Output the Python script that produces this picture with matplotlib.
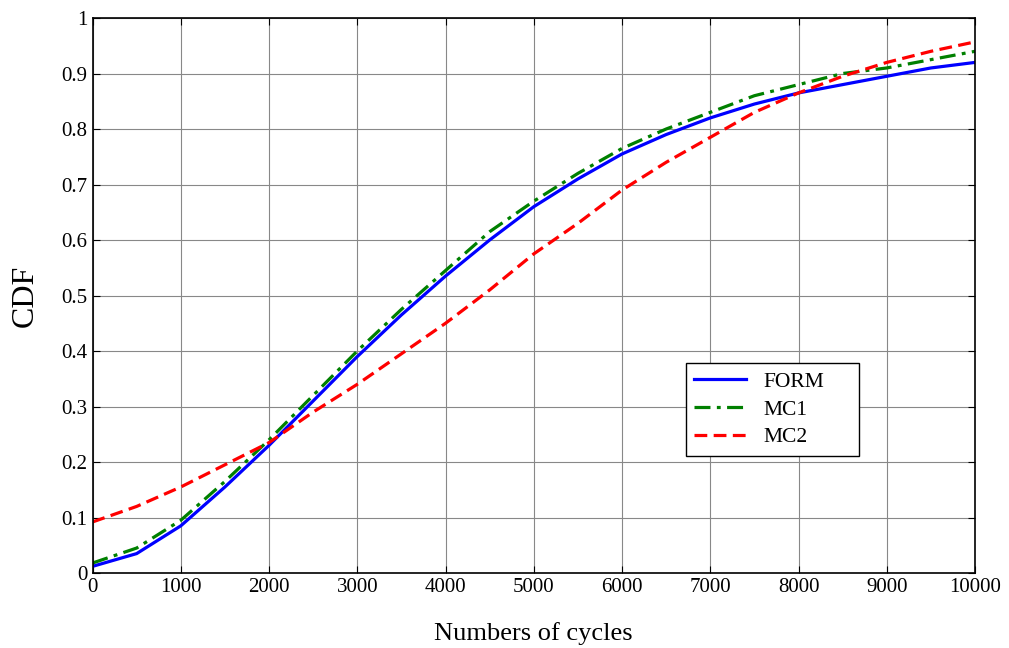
import numpy as np
import matplotlib.pyplot as plt

plt.rcParams['font.family'] = ['Liberation Serif', 'DejaVu Serif']

cycles = [0, 500, 1000, 1500, 2000, 2500, 3000, 3500, 4000, 4500, 5000,
          5500, 6000, 6500, 7000, 7500, 8000, 8500, 9000, 9500, 10000]
cdf_form = [0.012, 0.035, 0.085, 0.155, 0.23, 0.31, 0.39, 0.465, 0.535, 0.60, 0.66,
            0.71, 0.755, 0.79, 0.82, 0.845, 0.865, 0.88, 0.895, 0.91, 0.92]
cdf_mc1 = [0.018, 0.045, 0.095, 0.165, 0.24, 0.32, 0.40, 0.475, 0.545, 0.615, 0.67,
           0.72, 0.765, 0.80, 0.83, 0.86, 0.88, 0.90, 0.91, 0.925, 0.94]
cdf_mc2 = [0.092, 0.12, 0.155, 0.195, 0.235, 0.29, 0.34, 0.395, 0.45, 0.51, 0.575,
           0.63, 0.69, 0.74, 0.785, 0.83, 0.865, 0.895, 0.92, 0.94, 0.957]

fig = plt.figure(figsize=(10.09, 6.48), dpi=100)
ax = fig.add_axes([0.0917, 0.1157, 0.8746, 0.8565])

ax.plot(cycles, cdf_form, color='#0000ff', lw=2.3, ls='-', label='FORM')
ax.plot(cycles, cdf_mc1, color='#008000', lw=2.3, ls=(0, (5, 2, 1.2, 2)), label='MC1')
ax.plot(cycles, cdf_mc2, color='#ff0000', lw=2.3, ls=(0, (4, 2)), label='MC2')

ax.set_xlim(0, 10000)
ax.set_ylim(0, 1)
ax.set_xticks(np.arange(0, 10001, 1000))
ax.set_yticks(np.arange(0, 1.01, 0.1))
ax.set_yticklabels(['0', '0.1', '0.2', '0.3', '0.4', '0.5', '0.6', '0.7', '0.8', '0.9', '1'])
ax.grid(True, color='#888888', lw=0.8)
ax.tick_params(direction='in', top=True, right=True, labelsize=15, length=5)
for s in ax.spines.values():
    s.set_linewidth(1.2)

ax.set_xlabel('Numbers of cycles', fontsize=19, labelpad=18)
ax.set_ylabel('CDF', fontsize=23, labelpad=16)

leg = ax.legend(loc='center', bbox_to_anchor=(0.672, 0.218, 0.197, 0.153), mode='expand',
                fontsize=15.5, fancybox=False, framealpha=1, edgecolor='black',
                handlelength=2.4, labelspacing=0.35, borderaxespad=0)
leg.get_frame().set_linewidth(1.0)

fig.savefig('out.png', dpi=100)
